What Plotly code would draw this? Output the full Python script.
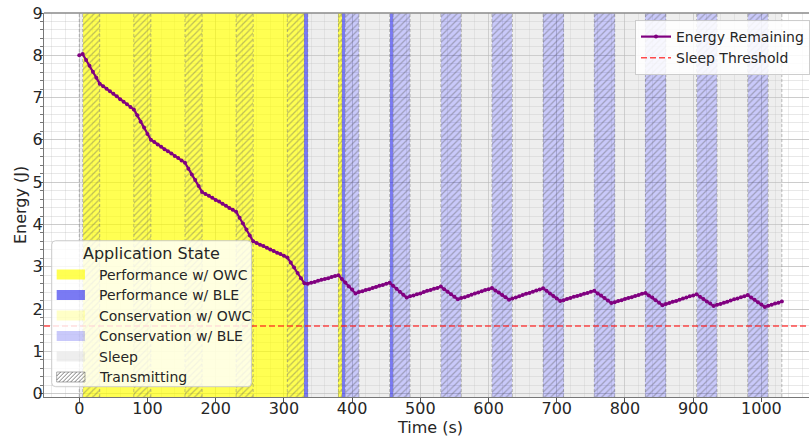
import plotly.graph_objects as go

# ---------------------------------------------------------------- data ----
SAMPLE_STEP_S = 5

# remaining energy, one sample every 5 s from t = 0 s to t = 1030 s
ENERGY_J = [
    8.00, 8.03, 7.89, 7.75, 7.61, 7.47, 7.33, 7.27, 7.21, 7.15,
    7.09, 7.03, 6.96, 6.90, 6.84, 6.78, 6.72, 6.58, 6.43, 6.29,
    6.14, 6.00, 5.95, 5.89, 5.84, 5.78, 5.73, 5.68, 5.62, 5.57,
    5.51, 5.46, 5.32, 5.18, 5.05, 4.91, 4.77, 4.72, 4.68, 4.63,
    4.58, 4.54, 4.49, 4.44, 4.39, 4.35, 4.30, 4.16, 4.02, 3.88,
    3.74, 3.60, 3.56, 3.52, 3.49, 3.45, 3.41, 3.37, 3.33, 3.30,
    3.26, 3.22, 3.10, 2.98, 2.85, 2.73, 2.61, 2.60, 2.62, 2.64,
    2.67, 2.69, 2.71, 2.73, 2.76, 2.78, 2.80, 2.71, 2.63, 2.54,
    2.46, 2.37, 2.40, 2.42, 2.45, 2.47, 2.50, 2.52, 2.55, 2.57,
    2.60, 2.62, 2.55, 2.48, 2.41, 2.34, 2.27, 2.30, 2.32, 2.35,
    2.37, 2.40, 2.43, 2.45, 2.48, 2.50, 2.53, 2.47, 2.41, 2.35,
    2.29, 2.23, 2.26, 2.28, 2.31, 2.34, 2.37, 2.39, 2.42, 2.45,
    2.47, 2.50, 2.44, 2.39, 2.33, 2.28, 2.22, 2.25, 2.27, 2.30,
    2.33, 2.36, 2.38, 2.41, 2.44, 2.46, 2.49, 2.43, 2.37, 2.31,
    2.25, 2.19, 2.21, 2.24, 2.26, 2.29, 2.31, 2.33, 2.36, 2.38,
    2.41, 2.43, 2.37, 2.32, 2.26, 2.20, 2.14, 2.16, 2.19, 2.21,
    2.24, 2.26, 2.28, 2.31, 2.33, 2.36, 2.38, 2.32, 2.27, 2.21,
    2.15, 2.09, 2.12, 2.14, 2.17, 2.19, 2.22, 2.25, 2.27, 2.30,
    2.32, 2.35, 2.29, 2.24, 2.18, 2.13, 2.07, 2.10, 2.12, 2.15,
    2.17, 2.20, 2.23, 2.25, 2.28, 2.30, 2.33, 2.27, 2.22, 2.16,
    2.11, 2.05, 2.08, 2.10, 2.13, 2.15, 2.18,
]
TIME_S = [i * SAMPLE_STEP_S for i in range(len(ENERGY_J))]

SLEEP_THRESHOLD_J = 1.6

# application state timeline: start time, state code, transmitting flag
STATE_START_S = [0, 5, 30, 80, 105, 155, 180, 230, 255, 305, 330, 335,
                 380, 385, 390, 410, 455, 460, 485, 530, 560, 605, 635,
                 680, 710, 755, 785, 830, 860, 905, 935, 980, 1010]
STATE_END_S = STATE_START_S[1:] + [1030]
STATE_CODE = ["S", "PO", "PO", "PO", "PO", "PO", "PO", "PO", "PO", "PO", "PB", "S",
              "PO", "PB", "CB", "S", "PB", "CB", "S", "CB", "S", "CB", "S",
              "CB", "S", "CB", "S", "CB", "S", "CB", "S", "CB", "S"]
STATE_TX = [0, 1, 0, 1, 0, 1, 0, 1, 0, 1, 0, 0,
            1, 0, 1, 0, 0, 1, 0, 1, 0, 1, 0,
            1, 0, 1, 0, 1, 0, 1, 0, 1, 0]

STATE_LABELS = {
    "PO": "Performance w/ OWC",
    "PB": "Performance w/ BLE",
    "CO": "Conservation w/ OWC",
    "CB": "Conservation w/ BLE",
    "S": "Sleep",
}
STATE_ORDER = ["PO", "PB", "CO", "CB", "S"]
STATE_COLORS = {
    "PO": "rgba(255,255,0,0.68)",
    "PB": "rgba(40,40,235,0.62)",
    "CO": "rgba(255,255,0,0.22)",
    "CB": "rgba(40,40,235,0.25)",
    "S": "rgba(205,205,205,0.35)",
}
X_TICKS = list(range(0, 1001, 100))
Y_TICKS = list(range(0, 10))

# ------------------------------------------------------------- geometry ---
W, H = 810, 437
M_L, M_R, M_T, M_B = 44, 0, 13, 40
X_MIN, X_MAX = -51.7, 1069.8
Y_MIN, Y_MAX = -0.08, 9.0
PW, PH = W - M_L - M_R, H - M_T - M_B

FONT = "DejaVu Sans"
TEXT = "#262626"
HATCH = "rgba(95,95,95,0.8)"


def px_x(px):
    return (px - M_L) / PW


def px_y(py):
    return (H - M_B - py) / PH


fig = go.Figure()

# background state spans
for code in STATE_ORDER:
    idx = [i for i, c in enumerate(STATE_CODE) if c == code]
    if not idx:
        continue
    fig.add_trace(go.Bar(
        x=[(STATE_START_S[i] + STATE_END_S[i]) / 2 for i in idx],
        width=[STATE_END_S[i] - STATE_START_S[i] for i in idx],
        y=[Y_MAX - Y_MIN] * len(idx),
        base=Y_MIN,
        marker=dict(color=STATE_COLORS[code], line=dict(width=0)),
        showlegend=False, hoverinfo="skip",
    ))

# hatching for transmitting periods
tx_idx = [i for i, t in enumerate(STATE_TX) if t]
fig.add_trace(go.Bar(
    x=[(STATE_START_S[i] + STATE_END_S[i]) / 2 for i in tx_idx],
    width=[STATE_END_S[i] - STATE_START_S[i] for i in tx_idx],
    y=[Y_MAX - Y_MIN] * len(tx_idx),
    base=Y_MIN,
    marker=dict(color="rgba(0,0,0,0)", line=dict(width=0),
                pattern=dict(shape="/", fgcolor=HATCH, size=4.5, solidity=0.28,
                             fillmode="overlay")),
    showlegend=False, hoverinfo="skip",
))

# dashed edges of the state spans
edges = sorted(set(STATE_START_S + STATE_END_S))
ex, ey = [], []
for e in edges:
    ex += [e, e, None]
    ey += [Y_MIN, Y_MAX, None]
fig.add_trace(go.Scatter(
    x=ex, y=ey, mode="lines",
    line=dict(color="rgba(128,128,128,0.5)", width=1, dash="3px,2px"),
    showlegend=False, hoverinfo="skip",
))

# energy and threshold
fig.add_trace(go.Scatter(
    x=TIME_S, y=ENERGY_J, mode="lines+markers", name="Energy Remaining",
    line=dict(color="#800080", width=2.2),
    marker=dict(color="#800080", size=4),
))
fig.add_trace(go.Scatter(
    x=[X_MIN, X_MAX], y=[SLEEP_THRESHOLD_J] * 2, mode="lines",
    name="Sleep Threshold",
    line=dict(color="rgba(255,30,30,0.8)", width=1.5, dash="6px,3px"),
))

# ------------------------------------------------- state legend (manual) ---
shapes = []
annotations = []

bx0, by0, bx1, by1 = 51.7, 240.7, 251.7, 386.7
r = 4
path = (f"M{px_x(bx0 + r)},{px_y(by0)} L{px_x(bx1 - r)},{px_y(by0)} "
        f"Q{px_x(bx1)},{px_y(by0)} {px_x(bx1)},{px_y(by0 + r)} "
        f"L{px_x(bx1)},{px_y(by1 - r)} Q{px_x(bx1)},{px_y(by1)} {px_x(bx1 - r)},{px_y(by1)} "
        f"L{px_x(bx0 + r)},{px_y(by1)} Q{px_x(bx0)},{px_y(by1)} {px_x(bx0)},{px_y(by1 - r)} "
        f"L{px_x(bx0)},{px_y(by0 + r)} Q{px_x(bx0)},{px_y(by0)} {px_x(bx0 + r)},{px_y(by0)} Z")
shapes.append(dict(type="path", xref="paper", yref="paper", path=path,
                   fillcolor="rgba(255,255,255,0.82)",
                   line=dict(color="rgba(200,200,200,0.9)", width=1)))
annotations.append(dict(x=px_x((bx0 + bx1) / 2), y=px_y(253.5), xref="paper", yref="paper",
                        text="Application State", showarrow=False,
                        font=dict(family=FONT, size=16, color=TEXT),
                        xanchor="center", yanchor="middle"))

legend_rows = [(STATE_LABELS[c], STATE_COLORS[c], False) for c in STATE_ORDER]
legend_rows.append(("Transmitting", "rgba(255,255,255,0)", True))
hx0, hx1, hh = 56.7, 85.0, 10.0
for k, (label, color, hatched) in enumerate(legend_rows):
    yc = 274.5 + 20.5 * k
    y_top, y_bot = yc - hh / 2, yc + hh / 2
    shapes.append(dict(type="rect", xref="paper", yref="paper",
                       x0=px_x(hx0), x1=px_x(hx1), y0=px_y(y_bot), y1=px_y(y_top),
                       fillcolor=color,
                       line=dict(color="rgba(150,150,150,0.8)" if hatched else "rgba(0,0,0,0)",
                                 width=1)))
    if hatched:
        step = 4.0
        x = hx0 - hh
        while x < hx1:
            xa, ya, xb, yb = x, y_bot, x + hh, y_top
            if xa < hx0:
                ya -= (hx0 - xa)
                xa = hx0
            if xb > hx1:
                yb += (xb - hx1)
                xb = hx1
            if xb > xa:
                shapes.append(dict(type="line", xref="paper", yref="paper",
                                   x0=px_x(xa), y0=px_y(ya), x1=px_x(xb), y1=px_y(yb),
                                   line=dict(color=HATCH, width=1)))
            x += step
    annotations.append(dict(x=px_x(96.7), y=px_y(yc), xref="paper", yref="paper",
                            text=label, showarrow=False,
                            font=dict(family=FONT, size=14, color=TEXT),
                            xanchor="left", yanchor="middle"))

# axis titles
annotations.append(dict(x=px_x(431), y=px_y(427.5), xref="paper", yref="paper",
                        text="Time (s)", showarrow=False,
                        font=dict(family=FONT, size=16, color=TEXT),
                        xanchor="center", yanchor="middle"))
annotations.append(dict(x=px_x(20), y=px_y(205), xref="paper", yref="paper",
                        text="Energy (J)", showarrow=False, textangle=-90,
                        font=dict(family=FONT, size=16, color=TEXT),
                        xanchor="center", yanchor="middle"))

# top spine
shapes.append(dict(type="line", xref="paper", yref="paper", x0=0, x1=1, y0=1, y1=1,
                   line=dict(color="#8a8a8a", width=1.5)))

axis_common = dict(
    showline=True, linecolor="#777777", linewidth=1.3,
    ticks="outside", ticklen=4, tickcolor="#555555", tickwidth=1,
    tickfont=dict(family=FONT, size=16, color=TEXT),
    showgrid=True, gridcolor="rgba(170,170,170,0.45)", gridwidth=1,
    zeroline=False, automargin=False,
)

fig.update_layout(
    width=W, height=H,
    margin=dict(l=M_L, r=M_R, t=M_T, b=M_B),
    paper_bgcolor="white", plot_bgcolor="white",
    barmode="overlay", bargap=0,
    font=dict(family=FONT, color=TEXT),
    xaxis=dict(range=[X_MIN, X_MAX], tickvals=X_TICKS, ticklabelstandoff=-7,
               minor=dict(dtick=20, tick0=0, showgrid=True,
                          gridcolor="rgba(180,180,180,0.25)", ticks=""),
               **axis_common),
    yaxis=dict(range=[Y_MIN, Y_MAX], tickvals=Y_TICKS, ticklabelstandoff=-7,
               minor=dict(dtick=0.2, tick0=0, showgrid=True,
                          gridcolor="rgba(180,180,180,0.3)", ticks="outside",
                          ticklen=3, tickcolor="#777777"),
               **axis_common),
    legend=dict(x=px_x(636), y=px_y(20), xanchor="left", yanchor="top",
                bgcolor="rgba(255,255,255,0.85)", bordercolor="rgba(200,200,200,0.9)",
                borderwidth=1, font=dict(family=FONT, size=14, color=TEXT),
                itemwidth=30, tracegroupgap=0),
    shapes=shapes,
    annotations=annotations,
    showlegend=True,
)

fig.write_html("out.html")
